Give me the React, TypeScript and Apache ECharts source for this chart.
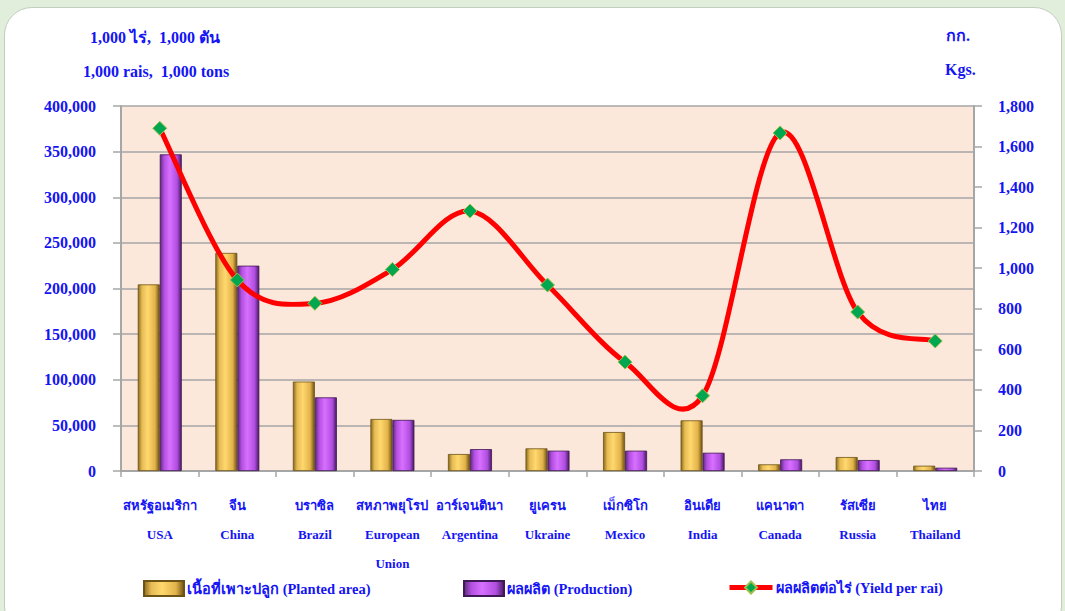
import React, { useEffect, useRef } from "react";
import * as echarts from "echarts";

const categoriesThai = ["สหรัฐอเมริกา", "จีน", "บราซิล", "สหภาพยุโรป", "อาร์เจนตินา", "ยูเครน", "เม็กซิโก", "อินเดีย", "แคนาดา", "รัสเซีย", "ไทย"];
const categoriesEn = ["USA", "China", "Brazil", "European\nUnion", "Argentina", "Ukraine", "Mexico", "India", "Canada", "Russia", "Thailand"];
const plantedArea = [204500, 239000, 98000, 57000, 18600, 24800, 42700, 55500, 7300, 15300, 5800];
const production = [347000, 225000, 80700, 56000, 24000, 22300, 22300, 20000, 12800, 12000, 3600];
const yieldPerRai = [1690, 942, 827, 994, 1282, 917, 537, 371, 1667, 784, 641];
const leftTicks = { min: 0, max: 400000, interval: 50000 };
const rightTicks = { min: 0, max: 1800, interval: 200 };
const seriesNames = ["เนื้อที่เพาะปลูก (Planted area)", "ผลผลิต (Production)", "ผลผลิตต่อไร่ (Yield per rai)"];

const BLUE = "#1414f5";
const FONT = "'Liberation Serif', 'Times New Roman', serif";

const fmt = (v: number) => Number(v).toLocaleString("en-US");

export default function App() {
  const ref = useRef<HTMLDivElement>(null);
  useEffect(() => {
    if (!ref.current) return;
    const chart = echarts.init(ref.current, null, { renderer: "svg" });
    const gold = new echarts.graphic.LinearGradient(0, 0, 1, 0, [
      { offset: 0, color: "#8a6a1c" },
      { offset: 0.18, color: "#e6bb55" },
      { offset: 0.45, color: "#ffd86e" },
      { offset: 0.8, color: "#e2b24a" },
      { offset: 1, color: "#6e5212" },
    ]);
    const purple = new echarts.graphic.LinearGradient(0, 0, 1, 0, [
      { offset: 0, color: "#5c2a78" },
      { offset: 0.18, color: "#b24ee0" },
      { offset: 0.45, color: "#d870ff" },
      { offset: 0.8, color: "#b04ee0" },
      { offset: 1, color: "#4a1a62" },
    ]);
    const textStyle = { color: BLUE, fontFamily: FONT, fontWeight: "bold" as const };
    const legendBase = {
      top: 580,
      padding: 0,
      itemWidth: 40,
      itemHeight: 15,
      textStyle: { ...textStyle, fontSize: 14.5, padding: [0, 0, 0, -2] },
    };
    chart.setOption({
      animation: false,
      backgroundColor: "transparent",
      textStyle: { fontFamily: FONT },
      grid: {
        left: 121,
        right: 91,
        top: 106,
        bottom: 140,
        show: true,
        backgroundColor: "#fce8da",
        borderWidth: 0,
      },
      legend: [
        { ...legendBase, data: [seriesNames[0]], left: 143, icon: "rect" },
        { ...legendBase, data: [seriesNames[1]], left: 463, icon: "rect" },
        {
          ...legendBase,
          data: [seriesNames[2]],
          left: 727,
          itemWidth: 43,
          lineStyle: { color: "#ff0000", width: 5, opacity: 1 },
        },
      ],
      graphic: [
        { type: "text", left: 90, top: 29, style: { text: "1,000 ไร่,  1,000 ตัน", fill: BLUE, font: `bold 16px ${FONT}` } },
        { type: "text", left: 83, top: 63, style: { text: "1,000 rais,  1,000 tons", fill: BLUE, font: `bold 16px ${FONT}` } },
        { type: "text", left: 946, top: 27, style: { text: "กก.", fill: BLUE, font: `bold 16px ${FONT}` } },
        { type: "text", left: 945, top: 61, style: { text: "Kgs.", fill: BLUE, font: `bold 16px ${FONT}` } },
      ],
      xAxis: {
        type: "category",
        data: categoriesEn,
        axisLine: { lineStyle: { color: "#a6a6a6", width: 2 } },
        axisTick: { show: true, length: 6, lineStyle: { color: "#a6a6a6", width: 1.5 } },
        axisLabel: {
          interval: 0,
          margin: 20,
          fontSize: 13,
          lineHeight: 29,
          ...textStyle,
          formatter: (_v: string, i: number) => categoriesThai[i] + "\n" + categoriesEn[i],
        },
      },
      yAxis: [
        {
          type: "value",
          ...leftTicks,
          axisLine: { show: true, lineStyle: { color: "#a6a6a6", width: 2 } },
          axisTick: { show: true, length: 8, lineStyle: { color: "#a6a6a6", width: 1.5 } },
          splitLine: { show: true, lineStyle: { color: "#a6a6a6", width: 1.5 } },
          axisLabel: { margin: 25, fontSize: 16, ...textStyle, formatter: fmt },
        },
        {
          type: "value",
          ...rightTicks,
          position: "right",
          axisLine: { show: true, lineStyle: { color: "#a6a6a6", width: 2 } },
          axisTick: { show: true, length: 8, lineStyle: { color: "#a6a6a6", width: 1.5 } },
          splitLine: { show: false },
          axisLabel: { margin: 24, fontSize: 16, ...textStyle, formatter: fmt },
        },
      ],
      series: [
        {
          name: seriesNames[0],
          type: "bar",
          data: plantedArea,
          barWidth: 22,
          barGap: "0%",
          itemStyle: { color: gold, borderColor: "#6b5316", borderWidth: 0.8 },
        },
        {
          name: seriesNames[1],
          type: "bar",
          data: production,
          barWidth: 22,
          barGap: "0%",
          itemStyle: { color: purple, borderColor: "#3f1856", borderWidth: 0.8 },
        },
        {
          type: "custom",
          yAxisIndex: 1,
          z: 4,
          silent: true,
          data: yieldPerRai.map((v, i) => [i, v]),
          encode: { x: 0, y: 1 },
          renderItem: (params: any, api: any) => {
            if (params.dataIndex !== 0) return null;
            const pts = yieldPerRai.map((v, i) => api.coord([i, v]));
            let d = `M${pts[0][0]},${pts[0][1]}`;
            for (let i = 0; i < pts.length - 1; i++) {
              const p0 = pts[i - 1] || pts[i];
              const p1 = pts[i];
              const p2 = pts[i + 1];
              const p3 = pts[i + 2] || pts[i + 1];
              const c1x = p1[0] + (p2[0] - p0[0]) / 6;
              const c1y = p1[1] + (p2[1] - p0[1]) / 6;
              const c2x = p2[0] - (p3[0] - p1[0]) / 6;
              const c2y = p2[1] - (p3[1] - p1[1]) / 6;
              d += ` C${c1x},${c1y} ${c2x},${c2y} ${p2[0]},${p2[1]}`;
            }
            return {
              type: "path",
              shape: { pathData: d },
              style: { fill: "none", stroke: "#ff0000", lineWidth: 5, lineJoin: "round", lineCap: "round" },
            };
          },
        },
        {
          name: seriesNames[2],
          type: "line",
          yAxisIndex: 1,
          data: yieldPerRai,
          z: 5,
          symbol: "diamond",
          symbolSize: 14,
          lineStyle: { color: "#ff0000", width: 5, opacity: 0 },
          itemStyle: { color: "#00a650", borderColor: "#9cc04a", borderWidth: 1 },
        },
      ],
    });
    return () => chart.dispose();
  }, []);
  return (
    <div style={{ position: "fixed", left: 0, top: 0, width: 1065, height: 611, background: "#e1eedb", overflow: "hidden" }}>
      <div
        style={{
          position: "absolute",
          left: 4,
          top: 7,
          width: 1056,
          height: 625,
          background: "#ffffff",
          border: "1px solid #c3cdbf",
          borderRadius: 28,
        }}
      />
      <div ref={ref} style={{ position: "absolute", left: 0, top: 0, width: 1065, height: 611 }} />
    </div>
  );
}
